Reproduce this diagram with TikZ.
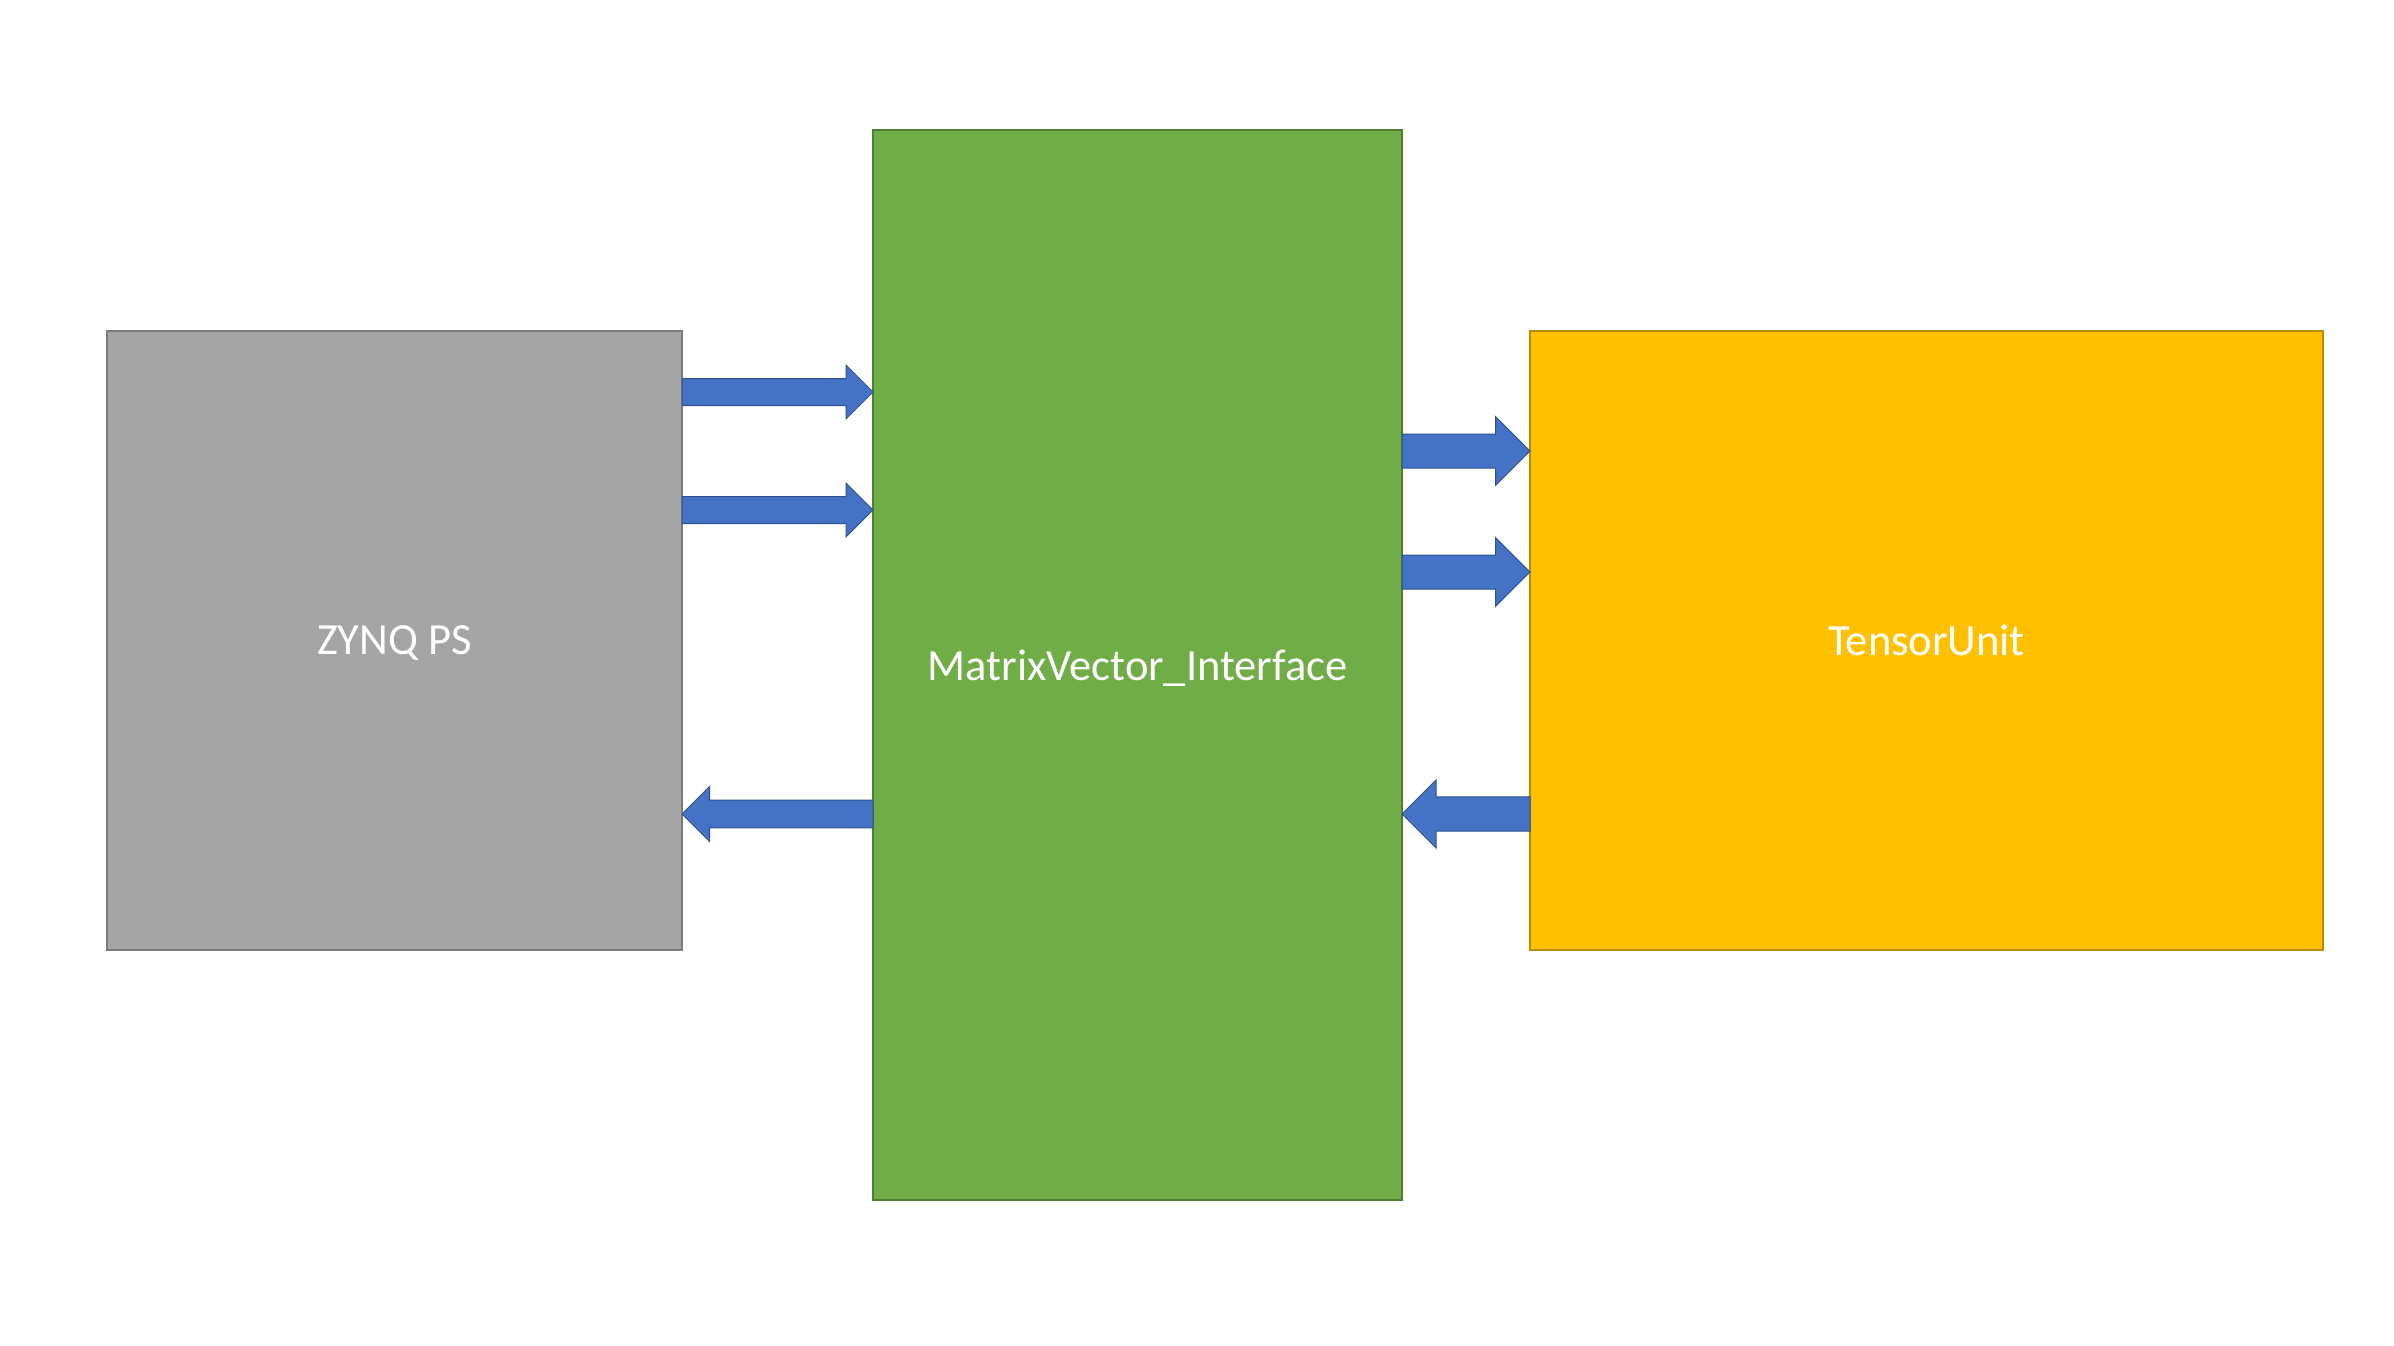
\documentclass[tikz,border=0pt]{standalone}
\usepackage{fontspec}
\setmainfont{Carlito}
\usepackage{tikz}
\usetikzlibrary{calc}
\definecolor{psgray}{HTML}{A5A5A5}
\definecolor{psedge}{HTML}{7B7B7B}
\definecolor{mvgreen}{HTML}{70AD47}
\definecolor{mvedge}{HTML}{507E32}
\definecolor{tuyellow}{HTML}{FFC000}
\definecolor{tuedge}{HTML}{BC8C00}
\definecolor{busblue}{HTML}{4472C4}
\definecolor{busedge}{HTML}{2F528F}
\def\fatarrow[#1](#2)(#3)(#4:#5){\filldraw[#1] let \p1=(#2), \p2=(#3), \p3=($(#3)!#5pt!(#2)$) in ({\x1},{\y1+#4pt}) -- ({\x3},{\y1+#4pt}) -- ({\x3},{\y1+#5pt}) -- (\p2) -- ({\x3},{\y1-#5pt}) -- ({\x3},{\y1-#4pt}) -- ({\x1},{\y1-#4pt}) -- cycle;}

\begin{document}
\begin{tikzpicture}[x=1pt, y=-1pt,
	block/.style={rectangle, line width=2pt, inner sep=0pt, outer sep=0pt, text depth=0pt, text=white, font=\fontsize{44.5}{52}\selectfont},
	bus/.style={fill=busblue, draw=busedge, line width=1pt, line join=miter}]
			%%%%% START %%%%%
			\useasboundingbox (0,0) rectangle (2394,1346);
			
			\node[block, fill=psgray, draw=psedge, minimum width=575pt, minimum height=619pt] (zynq) at (394.5,640.5) {ZYNQ PS};
			\node[block, fill=mvgreen, draw=mvedge, minimum width=529pt, minimum height=1070pt] (mvi) at (1137.5,665) {MatrixVector\_Interface};
			\node[block, fill=tuyellow, draw=tuedge, minimum width=793pt, minimum height=619pt] (tensor) at (1926.5,640.5) {TensorUnit};
			
			\coordinate (in1) at ($(zynq.north east)+(0,61)$);
			\coordinate (in2) at ($(zynq.north east)+(0,179)$);
			\coordinate (out1) at ($(zynq.north east)+(0,483)$);
			\coordinate (tu1) at ($(tensor.north west)+(0,120)$);
			\coordinate (tu2) at ($(tensor.north west)+(0,241)$);
			\coordinate (tu3) at ($(tensor.north west)+(0,483)$);
			
			\fatarrow[bus](in1)(in1 -| mvi.west)(13.5:27)
			\fatarrow[bus](in2)(in2 -| mvi.west)(13.5:27)
			\fatarrow[bus](out1 -| mvi.west)(out1)(13.8:27.5)
			
			\fatarrow[bus](tu1 -| mvi.east)(tu1)(17:34.5)
			\fatarrow[bus](tu2 -| mvi.east)(tu2)(17:34.5)
			\fatarrow[bus](tu3)(tu3 -| mvi.east)(17.2:34)
			
			%%%%% END %%%%%
		\end{tikzpicture}
\end{document}
